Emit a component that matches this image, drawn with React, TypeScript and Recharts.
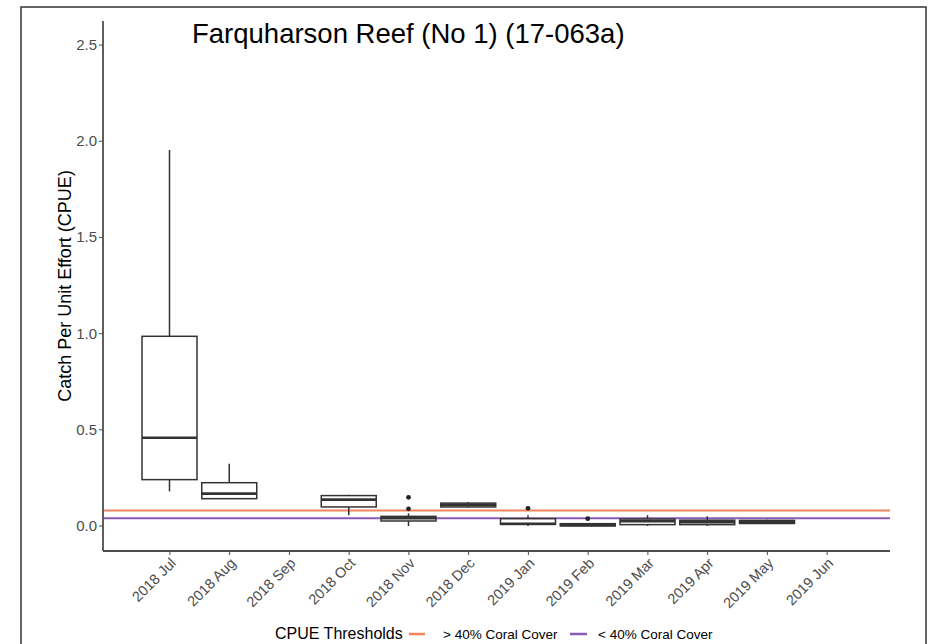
import React from "react";
import { ComposedChart, Bar, XAxis, YAxis, ReferenceLine } from "recharts";

const months = ["2018 Jul", "2018 Aug", "2018 Sep", "2018 Oct", "2018 Nov", "2018 Dec", "2019 Jan", "2019 Feb", "2019 Mar", "2019 Apr", "2019 May", "2019 Jun"];
const whiskerLow: (number | null)[] = [0.18, 0.142, null, 0.056, 0.0, 0.095, 0.0, 0.0, 0.0, 0.0, 0.01, null];
const q1: (number | null)[] = [0.241, 0.142, null, 0.099, 0.026, 0.099, 0.008, 0.0, 0.007, 0.007, 0.013, null];
const median: (number | null)[] = [0.459, 0.168, null, 0.137, 0.04, 0.11, 0.012, 0.005, 0.025, 0.02, 0.02, null];
const q3: (number | null)[] = [0.986, 0.225, null, 0.158, 0.05, 0.119, 0.038, 0.012, 0.036, 0.03, 0.029, null];
const whiskerHigh: (number | null)[] = [1.954, 0.324, null, 0.163, 0.066, 0.125, 0.056, 0.015, 0.056, 0.05, 0.032, null];
const outliers: number[][] = [[], [], [], [], [0.149, 0.089], [], [0.092], [0.038], [], [], [], []];
const yTicks = [0, 0.5, 1, 1.5, 2, 2.5];
const thresholdHigh = 0.08;
const thresholdLow = 0.04;
const titleText = "Farquharson Reef (No 1) (17-063a)";
const yLabel = "Catch Per Unit Effort (CPUE)";
const legendTitle = "CPUE Thresholds";
const legendHigh = "> 40% Coral Cover";
const legendLow = "< 40% Coral Cover";

const ORANGE = "#F2845C";
const PURPLE = "#8B5BB5";
const FONT = "'Liberation Sans', Arial, Helvetica, sans-serif";

const data = months.map((m, i) => ({
  month: m,
  range: whiskerLow[i] == null ? null : [whiskerLow[i], whiskerHigh[i]],
  lo: whiskerLow[i],
  q1: q1[i],
  med: median[i],
  q3: q3[i],
  hi: whiskerHigh[i],
  out: outliers[i],
}));

const BoxShape = (props: any) => {
  const { x, y, width, height, payload } = props;
  if (!payload || payload.lo == null) return null;
  const top = Math.min(y, y + height);
  const bot = Math.max(y, y + height);
  const span = payload.hi - payload.lo;
  const py = (v: number) => bot - ((v - payload.lo) / span) * (bot - top);
  const cx = x + width / 2;
  const stroke = "#333333";
  return (
    <g>
      <line x1={cx} x2={cx} y1={py(payload.hi)} y2={py(payload.q3)} stroke={stroke} strokeWidth={1.5} />
      <line x1={cx} x2={cx} y1={py(payload.q1)} y2={py(payload.lo)} stroke={stroke} strokeWidth={1.5} />
      <rect x={x} y={py(payload.q3)} width={width} height={Math.max(py(payload.q1) - py(payload.q3), 0)} fill="#ffffff" stroke={stroke} strokeWidth={1.5} />
      <line x1={x} x2={x + width} y1={py(payload.med)} y2={py(payload.med)} stroke={stroke} strokeWidth={2.6} />
      {payload.out.map((o: number, k: number) => (
        <circle key={k} cx={cx} cy={py(o)} r={2.4} fill="#222222" />
      ))}
    </g>
  );
};

const XTick = (props: any) => {
  const { x, y, payload } = props;
  const ax = x + 7;
  const ay = y + 7;
  return (
    <text x={ax} y={ay} transform={`rotate(-45, ${ax}, ${ay})`} textAnchor="end" fill="#4d4d4d" fontSize={14.5} fontFamily={FONT}>
      {payload.value}
    </text>
  );
};

const YTick = (props: any) => {
  const { x, y, payload } = props;
  return (
    <text x={x} y={y} dy={5} textAnchor="end" fill="#4d4d4d" fontSize={15} fontFamily={FONT}>
      {Number(payload.value).toFixed(1)}
    </text>
  );
};

const YLabel = (props: any) => {
  const vb = props.viewBox || { x: 0, y: 21, width: 103, height: 530 };
  const lx = vb.x + 71;
  const ly = vb.y + vb.height / 2;
  return (
    <text x={lx} y={ly} transform={`rotate(-90, ${lx}, ${ly})`} textAnchor="middle" fill="#000" fontSize={18} fontFamily={FONT}>
      {yLabel}
    </text>
  );
};

export default function App() {
  const refProps: any = { zIndex: 0 };
  return (
    <div style={{ position: "absolute", left: 0, top: 0, width: 928, height: 644, overflow: "hidden", background: "#fff" }}>
      <ComposedChart width={928} height={644} data={data} margin={{ top: 21, right: 38, bottom: 0, left: 0 }}>
        <XAxis
          dataKey="month"
          interval={0}
          height={93}
          padding={{ left: 37, right: 33 }}
          tick={<XTick />}
          tickSize={4}
          tickLine={{ stroke: "#4d4d4d", strokeWidth: 1 }}
          axisLine={{ stroke: "#4d4d4d", strokeWidth: 1.8 }}
        />
        <YAxis
          type="number"
          domain={[-0.13, 2.625]}
          allowDataOverflow
          ticks={yTicks}
          width={103}
          tick={<YTick />}
          tickSize={4}
          tickMargin={2}
          tickLine={{ stroke: "#4d4d4d", strokeWidth: 1 }}
          axisLine={{ stroke: "#4d4d4d", strokeWidth: 1.8 }}
          label={<YLabel />}
        />
        <ReferenceLine y={thresholdHigh} stroke={ORANGE} strokeWidth={2} {...refProps} />
        <ReferenceLine y={thresholdLow} stroke={PURPLE} strokeWidth={2} {...refProps} />
        <Bar dataKey="range" barSize={55} shape={<BoxShape />} isAnimationActive={false} />
      </ComposedChart>
      <svg width={928} height={644} style={{ position: "absolute", left: 0, top: 0, pointerEvents: "none" }}>
        <rect x={21} y={7} width={905} height={700} fill="none" stroke="#333" strokeWidth={1.5} />
        <text x={192} y={43} fontSize={27.5} fontFamily={FONT} fill="#000">{titleText}</text>
        <g fontFamily={FONT}>
          <text x={275} y={639} fontSize={16} fill="#000">{legendTitle}</text>
          <line x1={409} x2={425} y1={634} y2={634} stroke={ORANGE} strokeWidth={2.5} />
          <text x={443} y={639} fontSize={13.5} fill="#000">{legendHigh}</text>
          <line x1={570} x2={587} y1={634} y2={634} stroke={PURPLE} strokeWidth={2.5} />
          <text x={598} y={639} fontSize={13.5} fill="#000">{legendLow}</text>
        </g>
      </svg>
    </div>
  );
}
